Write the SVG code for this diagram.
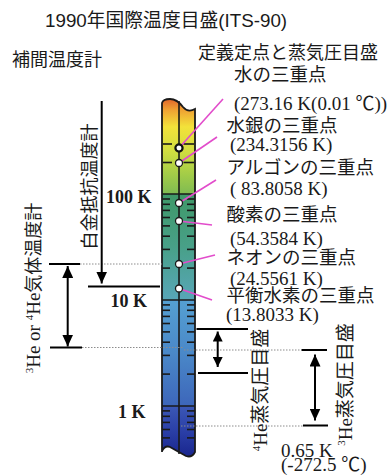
<svg xmlns="http://www.w3.org/2000/svg" width="391" height="476" viewBox="0 0 391 476">
<style>
.jp{font-family:"Noto Sans CJK JP","Noto Sans",sans-serif;fill:#1a1a1a}
.tm{font-family:"Liberation Serif","Noto Sans CJK JP",serif;fill:#1a1a1a;font-size:19px}
.bd{font-family:"Liberation Serif",serif;font-weight:bold;font-size:18px;fill:#1a1a1a}
.pk{stroke:#e24ccb;stroke-width:1.6;fill:none}
.dot{fill:#fff;stroke:#1a1a1a;stroke-width:1.3}
.tk{stroke:#1a1a1a;stroke-width:1.6}
.dl{stroke:#8c8c8c;stroke-width:1;stroke-dasharray:1.5 1.5;fill:none}
.ln{stroke:#000;stroke-width:2;fill:none}
</style>
<defs>
<clipPath id="col"><path d="M162,452 L162,103 Q163,99 170,99 Q177,99 183,107 Q188,113 195,109 L195,452 Q192,458 186,456 Q177,451 170,447 Q165,445 162,451 Z"/></clipPath>
<linearGradient id="gA" gradientUnits="userSpaceOnUse" x1="0" y1="98" x2="0" y2="194">
<stop offset="0" stop-color="#e0602a"/><stop offset="0.12" stop-color="#efa032"/><stop offset="0.3" stop-color="#f3e23a"/><stop offset="0.55" stop-color="#d2de40"/><stop offset="0.8" stop-color="#a2cc48"/><stop offset="1" stop-color="#7fbb52"/>
</linearGradient>
<linearGradient id="gB" gradientUnits="userSpaceOnUse" x1="0" y1="194" x2="0" y2="300">
<stop offset="0" stop-color="#3f9868"/><stop offset="0.5" stop-color="#48a088"/><stop offset="1" stop-color="#58a6b8"/>
</linearGradient>
<linearGradient id="gC" gradientUnits="userSpaceOnUse" x1="0" y1="300" x2="0" y2="406">
<stop offset="0" stop-color="#55a0d2"/><stop offset="0.5" stop-color="#4a88c8"/><stop offset="1" stop-color="#3d66ba"/>
</linearGradient>
<linearGradient id="gD" gradientUnits="userSpaceOnUse" x1="0" y1="406" x2="0" y2="458">
<stop offset="0" stop-color="#3b58b6"/><stop offset="0.5" stop-color="#2a3ea6"/><stop offset="1" stop-color="#18248c"/>
</linearGradient>
<marker id="ah" viewBox="0 0 12 11" refX="12" refY="5.5" markerWidth="12" markerHeight="11" markerUnits="userSpaceOnUse" orient="auto-start-reverse"><path d="M0,0 L12,5.5 L0,11 Z" fill="#000"/></marker>
<marker id="as" viewBox="0 0 10 10" refX="10" refY="5" markerWidth="10" markerHeight="10" markerUnits="userSpaceOnUse" orient="auto-start-reverse"><path d="M0,0 L10,5 L0,10 Z" fill="#000"/></marker>
</defs>

<g id="title">
<text x="45" y="26.5" font-size="18.8" font-family="Liberation Sans, Noto Sans CJK JP, sans-serif" fill="#1a1a1a">1990年国際温度目盛(ITS-90)</text>
</g>
<g id="heading-left"><text class="jp" x="12" y="65.5" font-size="18">補間温度計</text></g>
<g id="heading-right"><text class="jp" x="198" y="59" font-size="18">定義定点と蒸気圧目盛</text></g>

<g id="thermometer">
<g clip-path="url(#col)">
<rect x="160" y="95" width="40" height="99" fill="url(#gA)"/>
<rect x="160" y="194" width="40" height="106" fill="url(#gB)"/>
<rect x="160" y="300" width="40" height="106" fill="url(#gC)"/>
<rect x="160" y="406" width="40" height="56" fill="url(#gD)"/>
</g>
<g class="tk">
<line x1="163" y1="144" x2="172" y2="144"/><line x1="183.5" y1="144" x2="194" y2="144"/>
<line x1="163" y1="162.5" x2="172" y2="162.5"/><line x1="183.5" y1="162.5" x2="194" y2="162.5"/>
<line x1="162" y1="194" x2="195" y2="194"/>
<line x1="162" y1="300" x2="195" y2="300"/>
<line x1="162" y1="406" x2="195" y2="406"/>
<line x1="162" y1="199" x2="170" y2="199"/><line x1="187" y1="199" x2="195" y2="199"/>
<line x1="162" y1="204.3" x2="170" y2="204.3"/><line x1="187" y1="204.3" x2="195" y2="204.3"/>
<line x1="162" y1="210.4" x2="170" y2="210.4"/><line x1="187" y1="210.4" x2="195" y2="210.4"/>
<line x1="162" y1="217.5" x2="170" y2="217.5"/><line x1="187" y1="217.5" x2="195" y2="217.5"/>
<line x1="162" y1="225.9" x2="170" y2="225.9"/><line x1="187" y1="225.9" x2="195" y2="225.9"/>
<line x1="162" y1="236.2" x2="170" y2="236.2"/><line x1="187" y1="236.2" x2="195" y2="236.2"/>
<line x1="162" y1="249.4" x2="170" y2="249.4"/><line x1="187" y1="249.4" x2="195" y2="249.4"/>
<line x1="162" y1="268.1" x2="170" y2="268.1"/><line x1="187" y1="268.1" x2="195" y2="268.1"/>
<line x1="162" y1="304.9" x2="170" y2="304.9"/><line x1="187" y1="304.9" x2="195" y2="304.9"/>
<line x1="162" y1="310.3" x2="170" y2="310.3"/><line x1="187" y1="310.3" x2="195" y2="310.3"/>
<line x1="162" y1="316.4" x2="170" y2="316.4"/><line x1="187" y1="316.4" x2="195" y2="316.4"/>
<line x1="162" y1="323.5" x2="170" y2="323.5"/><line x1="187" y1="323.5" x2="195" y2="323.5"/>
<line x1="162" y1="331.9" x2="170" y2="331.9"/><line x1="187" y1="331.9" x2="195" y2="331.9"/>
<line x1="162" y1="342.2" x2="170" y2="342.2"/><line x1="187" y1="342.2" x2="195" y2="342.2"/>
<line x1="162" y1="355.4" x2="170" y2="355.4"/><line x1="187" y1="355.4" x2="195" y2="355.4"/>
<line x1="162" y1="374.1" x2="170" y2="374.1"/><line x1="187" y1="374.1" x2="195" y2="374.1"/>
<line x1="162" y1="410.9" x2="170" y2="410.9"/><line x1="187" y1="410.9" x2="195" y2="410.9"/>
<line x1="162" y1="416.3" x2="170" y2="416.3"/><line x1="187" y1="416.3" x2="195" y2="416.3"/>
<line x1="162" y1="422.4" x2="170" y2="422.4"/><line x1="187" y1="422.4" x2="195" y2="422.4"/>
<line x1="162" y1="429.5" x2="170" y2="429.5"/><line x1="187" y1="429.5" x2="195" y2="429.5"/>
<line x1="162" y1="437.9" x2="170" y2="437.9"/><line x1="187" y1="437.9" x2="195" y2="437.9"/>
<line x1="179" y1="101" x2="179" y2="454"/>
</g>
<path d="M162,452 L162,103 Q163,99 170,99 Q177,99 183,107 Q188,113 195,109 L195,452 Q192,458 186,456 Q177,451 170,447 Q165,445 162,451 Z" fill="none" stroke="#1a1a1a" stroke-width="1.8"/>
<text class="bd" x="106" y="203">100 K</text>
<text class="bd" x="110.5" y="307">10 K</text>
<text class="bd" x="118" y="418">1 K</text>
</g>

<g id="connectors">
<line class="pk" x1="179" y1="148" x2="223" y2="99"/>
<line class="pk" x1="179" y1="163" x2="217" y2="137"/>
<line class="pk" x1="179" y1="203" x2="216" y2="180"/>
<line class="pk" x1="179" y1="221" x2="212" y2="225"/>
<line class="pk" x1="179" y1="264" x2="215" y2="255"/>
<line class="pk" x1="179" y1="288.5" x2="212" y2="300"/>
<line class="dl" x1="80" y1="264" x2="162" y2="264"/>
<line class="dl" x1="82" y1="347.5" x2="184" y2="347.5"/>
<line class="dl" x1="184" y1="350" x2="301" y2="350"/>
<line class="dl" x1="181" y1="426" x2="303" y2="426"/>
<line class="ln" x1="101.7" y1="101" x2="101.7" y2="283.5" marker-end="url(#ah)"/>
<line class="ln" x1="88" y1="286.5" x2="160" y2="286.5"/>
<line class="ln" x1="49" y1="264" x2="80" y2="264"/>
<line class="ln" x1="50" y1="347.5" x2="82" y2="347.5"/>
<line class="ln" x1="67.7" y1="266" x2="67.7" y2="346.5" marker-start="url(#ah)" marker-end="url(#ah)"/>
<line class="ln" x1="196.5" y1="329" x2="248" y2="329"/>
<line class="ln" x1="198" y1="373" x2="248" y2="373"/>
<line class="ln" x1="217.7" y1="331.5" x2="217.7" y2="367" marker-start="url(#as)" marker-end="url(#as)"/>
<line class="ln" x1="301.5" y1="350" x2="327" y2="350"/>
<line class="ln" x1="303" y1="425.5" x2="328" y2="425.5"/>
<line class="ln" x1="315" y1="354.5" x2="315" y2="420.5" marker-start="url(#ah)" marker-end="url(#ah)"/>
</g>

<g id="fp-water"><circle cx="179" cy="148" r="3.6" fill="#fff" stroke="#111" stroke-width="2.2"/>
<text class="jp" x="234" y="80.5" font-size="18.5">水の三重点</text>
<text class="tm" x="234" y="109.5">(273.16 K(0.01 ℃))</text></g>
<g id="fp-mercury"><circle class="dot" cx="179" cy="163" r="3.5"/>
<text class="jp" x="226.5" y="131.5" font-size="18.5">水銀の三重点</text>
<text class="tm" x="230" y="151">(234.3156 K)</text></g>
<g id="fp-argon"><circle class="dot" cx="179" cy="203" r="3.5"/>
<text class="jp" x="226.5" y="174" font-size="18.5">アルゴンの三重点</text>
<text class="tm" x="230" y="194.5">( 83.8058 K)</text></g>
<g id="fp-oxygen"><circle class="dot" cx="179" cy="221" r="3.5"/>
<text class="jp" x="226.5" y="220.5" font-size="18.5">酸素の三重点</text>
<text class="tm" x="230" y="244.5">(54.3584 K)</text></g>
<g id="fp-neon"><circle class="dot" cx="179" cy="264" r="3.5"/>
<text class="jp" x="226.5" y="264" font-size="18.5">ネオンの三重点</text>
<text class="tm" x="230" y="284.5">(24.5561 K)</text></g>
<g id="fp-hydrogen"><circle class="dot" cx="179" cy="288.5" r="3.5"/>
<text class="jp" x="226.5" y="301.5" font-size="18.5">平衡水素の三重点</text>
<text class="tm" x="226" y="321">(13.8033 K)</text></g>

<g id="pt-thermometer">
<text class="jp" font-size="18" text-anchor="middle" transform="translate(96,186.5) rotate(-90)">白金抵抗温度計</text>
</g>
<g id="gas-thermometer">
<text transform="translate(40,288) rotate(-90)" text-anchor="middle" class="tm" font-size="18"><tspan font-size="11" dy="-7">3</tspan><tspan dy="7">He or </tspan><tspan font-size="11" dy="-7">4</tspan><tspan dy="7">He</tspan><tspan class="jp" font-size="18">気体温度計</tspan></text>
</g>
<g id="he4-vapor">
<text transform="translate(267,390) rotate(-90)" text-anchor="middle" class="tm" font-size="18"><tspan font-size="11" dy="-7">4</tspan><tspan dy="7">He</tspan><tspan class="jp" font-size="19">蒸気圧目盛</tspan></text>
</g>
<g id="he3-vapor">
<text transform="translate(352,384.5) rotate(-90)" text-anchor="middle" class="tm" font-size="18"><tspan font-size="11" dy="-7">3</tspan><tspan dy="7">He</tspan><tspan class="jp" font-size="19">蒸気圧目盛</tspan></text>
<text class="tm" x="281" y="456.5">0.65 K</text>
<text class="tm" x="281" y="471">(-272.5 ℃)</text>
</g>
</svg>
